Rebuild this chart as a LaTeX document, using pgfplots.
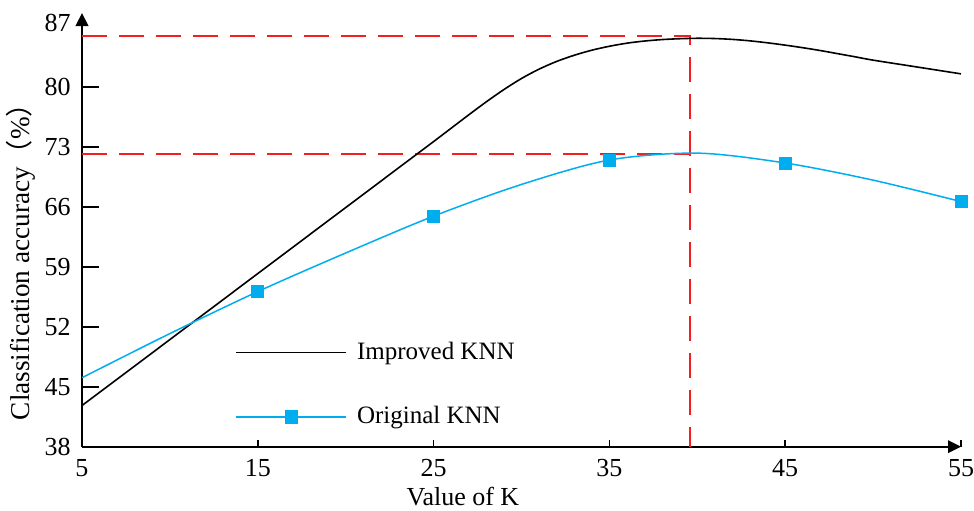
\documentclass[border=0pt]{standalone}
\usepackage{fontspec}
\setmainfont{Liberation Serif}
\newfontfamily\cjk{Noto Sans CJK SC}
\usepackage{pgfplots}
\pgfplotsset{compat=1.18}
\usetikzlibrary{arrows.meta}
\definecolor{kblue}{RGB}{0,174,239}
\definecolor{kred}{RGB}{245,30,30}
\begin{document}
\fontsize{13}{15.6}\selectfont
\begin{tikzpicture}
\useasboundingbox (-41pt,-31.65pt) rectangle (446pt,223.35pt);
\begin{axis}[
  scale only axis,
  width=439.5pt, height=216.85pt,
  xmin=5, xmax=55, ymin=38, ymax=88.6,
  axis lines=left,
  axis line style={line width=0.85pt, -{Triangle[length=6.5pt,width=6.3pt]}},
  clip=false,
  xtick={5,15,25,35,45,55},
  ytick={38,45,52,59,66,73,80},
  extra y ticks={87},
  extra y tick style={tick style={draw=none}, yticklabel style={yshift=2pt}},
  tick align=inside,
  major tick length=8.5pt,
  x tick style={/pgfplots/major tick length=3.5pt},
  tick style={line width=0.85pt, black},
  /pgf/number format/assume math mode=true,
  ticklabel style={font=\fontsize{13}{15.6}\selectfont},
  xticklabel style={inner sep=0pt, yshift=-6pt},
  yticklabel style={inner sep=0pt, xshift=-5.5pt},
  xlabel={Value of K},
  ylabel={Classification accuracy{\cjk （}\%{\cjk ）}},
  xlabel style={at={(axis description cs:0.4334,0)}, anchor=north, inner sep=0pt, yshift=-20pt, font=\fontsize{13}{15.6}\selectfont},
  ylabel style={at={(axis description cs:-0.0694,0.442)}, anchor=center, inner sep=0pt, font=\fontsize{13.6}{16}\selectfont},
  legend style={draw=none, fill=none, at={(axis description cs:0.1673,0.261)}, anchor=north west,
    font=\fontsize{12.5}{15}\selectfont, row sep=17.5pt,
    /tikz/every odd column/.append style={column sep=3pt}},
  legend cell align=left,
  legend image code/.code={\draw[mark repeat=2,mark phase=2,#1] plot coordinates {(0pt,0pt) (27.5pt,0pt) (55pt,0pt)};},
]
\addplot[kred, line width=1pt, dash pattern=on 12.5pt off 6pt, forget plot] coordinates {(5,85.9) (39.6,85.9) (39.6,38)};
\addplot[kred, line width=1pt, dash pattern=on 12.5pt off 6pt, forget plot] coordinates {(5,72.15) (39.6,72.15)};
\addplot[black, line width=0.8pt, smooth] coordinates {
  (5,42.8) (10,50.5) (15,58.2) (20,65.9) (22,68.98) (24,72.06) (25,73.6) (26,75.16)
  (27,76.72) (28,78.24) (29,79.67) (30,80.96) (31,82.05) (32,82.95) (33,83.67)
  (34,84.26) (35,84.72) (36,85.08) (37,85.33) (38,85.5) (39,85.6) (40,85.65)
  (41,85.62) (42,85.52) (43,85.35) (44,85.12) (45,84.85) (46,84.55) (47,84.22)
  (48,83.85) (49,83.48) (50,83.1) (52.5,82.3) (55,81.5)};
\addlegendentry{Improved KNN}
\addplot[kblue, line width=0.75pt, smooth, forget plot] coordinates {
  (5,46.05) (10,51.2) (15,56.1) (20,60.6) (25,64.9) (30,68.6) (35,71.45) (40,72.25)
  (45,71.1) (50,69.1) (55,66.6)};
\addplot[only marks, mark=square*, mark size=3pt, kblue, forget plot] coordinates {
  (15,56.1) (25,64.9) (35,71.45) (45,71.1) (55,66.6)};
\addlegendimage{kblue, line width=0.75pt, mark=square*, mark size=3pt, mark options={solid}}
\addlegendentry{Original KNN}
\end{axis}
\end{tikzpicture}
\end{document}
